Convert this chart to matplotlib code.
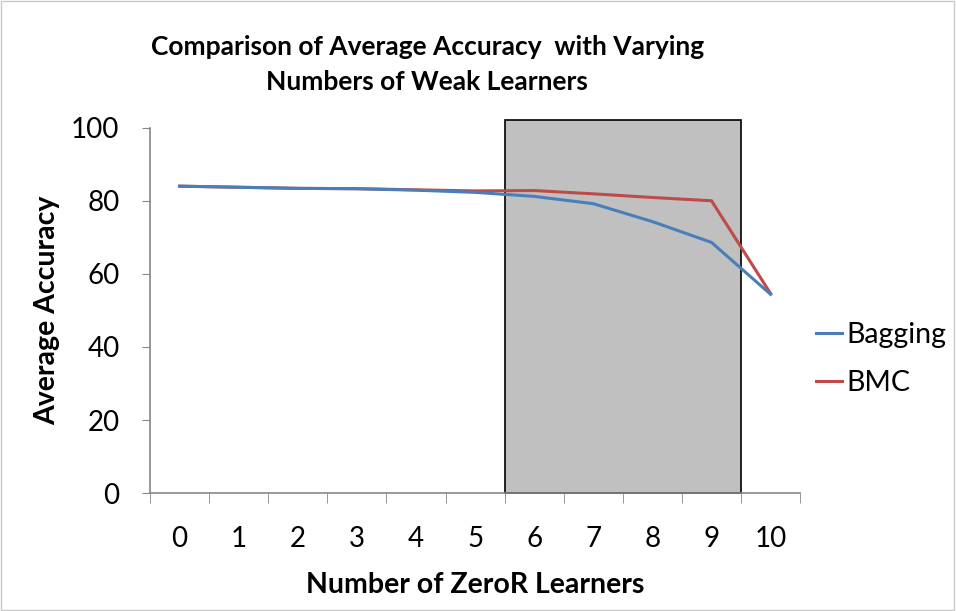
import matplotlib.pyplot as plt
from matplotlib import patches

plt.rcParams['font.family'] = ['Lato', 'DejaVu Sans']

learners = list(range(11))
bagging = [84.0, 83.7, 83.4, 83.3, 82.9, 82.3, 81.2, 79.2, 74.3, 68.6, 54.4]
bmc = [84.0, 83.7, 83.4, 83.3, 83.0, 82.7, 82.8, 81.9, 80.9, 80.0, 54.6]
shade_from, shade_to, shade_top = 5.5, 9.5, 102

fig = plt.figure(figsize=(9.56, 6.11), dpi=100)
ax = fig.add_axes([0.157, 0.193, 0.68, 0.598])

# highlighted region behind the lines
ax.add_patch(patches.Rectangle((shade_from, 0), shade_to - shade_from, shade_top,
                               facecolor='#c0c0c0', edgecolor='black', linewidth=1.2,
                               clip_on=False, zorder=1))

ax.plot(learners, bagging, color='#4a7ebb', linewidth=2.2, label='Bagging', zorder=3, clip_on=False)
ax.plot(learners, bmc, color='#be4b48', linewidth=2.2, label='BMC', zorder=2, clip_on=False)

ax.set_xlim(-0.5, 10.5)
ax.set_ylim(0, 100)
ax.set_xticks(learners)
ax.set_xticklabels([str(v) for v in learners], fontsize=20)
ax.set_xticks([v - 0.5 for v in range(12)], minor=True)
ax.tick_params(axis='x', which='major', length=0, pad=24)
ax.tick_params(axis='x', which='minor', length=7, color='#868686')
ax.set_yticks(range(0, 101, 20))
ax.tick_params(axis='y', labelsize=20, length=6, color='#868686', pad=16)

for side in ('top', 'right'):
    ax.spines[side].set_visible(False)
for side in ('left', 'bottom'):
    ax.spines[side].set_color('#868686')
    ax.spines[side].set_linewidth(1.2)

ax.set_xlabel('Number of ZeroR Learners', fontsize=20.5, fontweight='bold', labelpad=14)
ax.set_ylabel('Average Accuracy', fontsize=20.5, fontweight='bold', labelpad=8)
fig.text(0.447, 0.895, 'Comparison of Average Accuracy  with Varying\nNumbers of Weak Learners',
         ha='center', va='center', fontsize=19, fontweight='bold', linespacing=1.55)

ax.legend(loc='center left', bbox_to_anchor=(0.985, 0.367), frameon=False, fontsize=20.5,
          handlelength=0.9, handletextpad=0.15, labelspacing=0.8)

fig.add_artist(patches.Rectangle((0.001, 0.001), 0.997, 0.997, transform=fig.transFigure,
                                 fill=False, edgecolor='#c8c8c8', linewidth=1))

fig.savefig('out.png', dpi=100)
